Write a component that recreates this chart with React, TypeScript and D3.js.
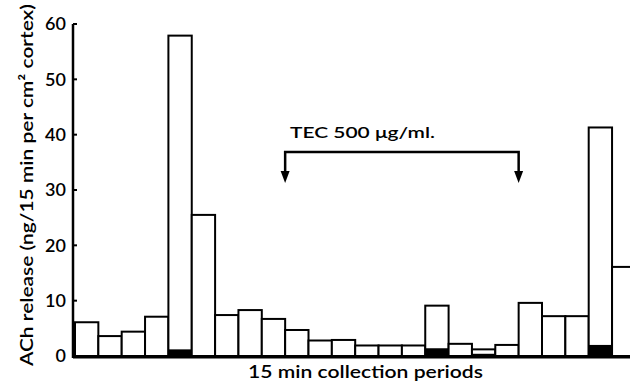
import * as d3 from "d3";

// ACh release per 15 min collection period (ng/15 min per cm² cortex)
const periods = d3.range(1, 25);
const totalRelease = [
  6.1, 3.6, 4.4, 7.1, 57.9, 25.5, 7.4, 8.3, 6.7, 4.7, 2.8, 2.9,
  1.9, 1.9, 1.9, 9.1, 2.2, 1.2, 2.0, 9.6, 7.2, 7.2, 41.3, 16.1,
];
// solid (black) part at the foot of some bars
const blackPart = [
  0, 0, 0, 0, 1.2, 0, 0, 0, 0, 0, 0, 0,
  0, 0, 0, 1.4, 0, 0.4, 0, 0, 0, 0, 2.0, 0,
];
const yTicks = [0, 10, 20, 30, 40, 50, 60];
const tecStart = 10; // first period with TEC
const tecEnd = 20; // first period after TEC

const W = 630;
const H = 384;
const FONT = "Lato, 'Open Sans', sans-serif";

export default function App() {
  const axisX = 73;
  const x = d3
    .scaleBand<number>()
    .domain(periods)
    .range([75, 75 + 24 * 23.35])
    .padding(0);
  const y = d3.scaleLinear().domain([0, 60]).range([356, 24]);
  const y0 = y(0);

  const arrowY = 152;
  const arrowTip = 183;
  const ax1 = x(tecStart)!;
  const ax2 = x(tecEnd)!;

  return (
    <svg
      width={W}
      height={H}
      style={{ position: "absolute", left: 0, top: 0, background: "#fff" }}
      fontFamily={FONT}
    >
      {/* bars */}
      {periods.map((p, i) => {
        const v = totalRelease[i];
        const b = blackPart[i];
        return (
          <g key={p}>
            <rect
              x={x(p)}
              y={y(v)}
              width={x.bandwidth()}
              height={y0 - y(v)}
              fill="#fff"
              stroke="#000"
              strokeWidth={2}
            />
            {b > 0 && (
              <rect
                x={x(p)}
                y={y(b)}
                width={x.bandwidth()}
                height={y0 - y(b)}
                fill="#000"
              />
            )}
          </g>
        );
      })}

      {/* baseline */}
      <line x1={axisX} x2={W} y1={y0 + 1} y2={y0 + 1} stroke="#000" strokeWidth={3} />

      {/* y axis */}
      <line x1={axisX} x2={axisX} y1={y(60)} y2={y0 + 2} stroke="#000" strokeWidth={2.5} />
      {yTicks.map((t) => (
        <g key={t}>
          <line x1={axisX} x2={axisX + 4} y1={y(t)} y2={y(t)} stroke="#000" strokeWidth={2} />
          <text
            x={66}
            y={y(t)}
            dy="0.36em"
            textAnchor="end"
            fontSize={18}
            fontWeight={600}
          >
            {t}
          </text>
        </g>
      ))}

      {/* axis titles */}
      <text
        transform={`translate(33,${185}) rotate(-90)`}
        textAnchor="middle"
        fontSize={18}
        fontWeight={600}
        textLength={362}
        lengthAdjust="spacingAndGlyphs"
      >
        ACh release (ng/15 min per cm² cortex)
      </text>
      <text
        x={248}
        y={378}
        fontSize={18}
        fontWeight={600}
        textLength={235}
        lengthAdjust="spacingAndGlyphs"
      >
        15 min collection periods
      </text>

      {/* TEC annotation */}
      <text
        x={290}
        y={138}
        fontSize={16}
        fontWeight={600}
        textLength={145}
        lengthAdjust="spacingAndGlyphs"
      >
        TEC 500 μg/ml.
      </text>
      <path
        d={`M${ax1},${arrowTip - 8}V${arrowY}H${ax2}V${arrowTip - 8}`}
        fill="none"
        stroke="#000"
        strokeWidth={2.5}
      />
      {[ax1, ax2].map((ax) => (
        <path
          key={ax}
          d={`M${ax - 4.5},${arrowTip - 12}L${ax + 4.5},${arrowTip - 12}L${ax},${arrowTip}Z`}
          fill="#000"
        />
      ))}
    </svg>
  );
}
